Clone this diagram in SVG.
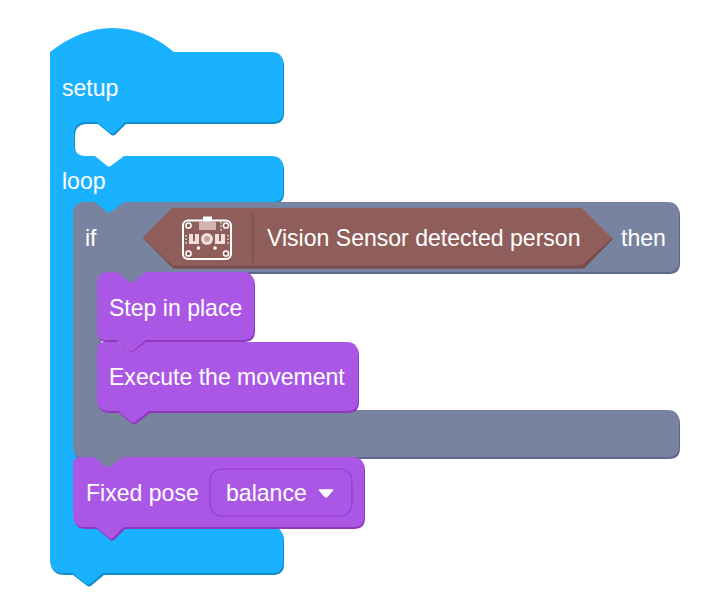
<svg xmlns="http://www.w3.org/2000/svg" width="724" height="605" viewBox="0 0 724 605">
<style>
text{font-family:"Liberation Sans",Arial,sans-serif;font-size:23.050px;fill:#fff}
.blue{fill:#1ab2ff}
.blueS{fill:#0f8ecb}
.slate{fill:#78849f}
.slateS{fill:#5c6a90}
.purple{fill:#ab57e6}
.purpleS{fill:#8e38bd}
.ic{fill:none;stroke:#fff;stroke-width:1.500}
.plate{fill:none;stroke:#fff;stroke-width:2}
.id{fill:#fff}
</style>
<defs>
<path id="setupLoop" d="M50 52C70 36 92 28 112 28C135 28 155 36 174 52H272Q283 52 283 64V111Q283 122 272 122H125L115 132Q112 135 109 132L97 122H86Q74 122 74 134V144Q74 156 86 156H95L106 165Q109 168 112 165L124 156H272Q283 156 283 168V191Q283 202 272 202H124L112 212Q109 215 106 212L95 202H86Q76 202 76 214V500H100V527H272Q283 527 283 539V562Q283 573 272 573H103L91 583Q88 586 85 583L72 573H64Q50 573 50 560Z"/>
<path id="ifBlock" d="M85 202H95L106 211Q109 214 112 211L124 202H668Q679 202 679 214V261Q679 272 668 272H146L134 282Q131 285 128 282L117 272H109Q100 272 100 285V398Q100 410 109 410H668Q679 410 679 422V446Q679 457 668 457H123L111 467Q108 470 105 467L94 457H83Q73 457 73 447V214Q73 202 85 202Z"/>
<path id="stepShape" d="M109 272H117L128 281Q131 284 134 281L146 272H243Q254 272 254 284V329Q254 340 243 340H146L134 350Q131 353 128 350L117 340H105Q97 340 97 332V284Q97 272 109 272Z"/>
<path id="execShape" d="M104 342H118L128 351Q131 354 134 351L146 342H347Q358 342 358 354V400Q358 411 347 411H149L136 421Q133 424 130 421L118 411H109Q97 411 97 399V349Q97 342 104 342Z"/>
<path id="poseShape" d="M80 457H94L105 466Q108 469 111 466L123 457H353Q364 457 364 469V516Q364 527 353 527H124L114 537Q111 540 108 537L96 527H85Q73 527 73 515V464Q73 457 80 457Z"/>
</defs>

<g id="connectors"></g>

<g id="setup-loop">
<use href="#setupLoop" class="blueS" x="1" y="2"/>
<use href="#setupLoop" class="blue"/>
<text x="62" y="96">setup</text>
<text x="62" y="189">loop</text>
</g>

<g id="if-block">
<use href="#ifBlock" class="slateS" x="1" y="2"/>
<use href="#ifBlock" class="slate"/>
<text x="85" y="246">if</text>
<text x="621" y="246">then</text>
</g>

<g id="vision-condition">
<path d="M143 238L173 268.500H584L613 239L582 212H173Z" fill="#784b48"/>
<path d="M143 237.500L172 208H582L612 238L582 265.500H172Z" fill="#8f5e5a"/>
<path d="M253 213V263" stroke="#7a4c49" stroke-width="1.200"/>
<g id="sensor-icon">
<rect x="183" y="220.500" width="48" height="38.500" rx="5" class="plate"/>
<rect x="203" y="216.500" width="9" height="5" class="id"/>
<rect x="199" y="222" width="17" height="8" fill="#e6cfcc" opacity=".75"/>
<circle cx="188.500" cy="225.500" r="2.600" class="ic"/>
<circle cx="226" cy="225.500" r="2.600" class="ic"/>
<circle cx="188.500" cy="253.500" r="2.600" class="ic"/>
<circle cx="226" cy="253.500" r="2.600" class="ic"/>
<circle cx="207" cy="239" r="6" fill="#f0dedc"/>
<circle cx="207" cy="239" r="3" fill="#c9a5a1"/>
<rect x="189" y="234" width="10" height="10" fill="#f0dedc"/>
<rect x="215" y="234" width="10" height="10" fill="#f0dedc"/>
<path d="M194 234V241M220 234V241" stroke="#8f5e5a" stroke-width="2"/>
<circle cx="198.500" cy="248" r="1.800" class="id"/>
<circle cx="215" cy="248" r="1.800" class="id"/>
<path d="M221 222V231M186 235V245M228 235V245" stroke="#fff" stroke-width="1.200" stroke-dasharray="1.500 2"/>
</g>
<text x="267" y="246">Vision Sensor detected person</text>
</g>

<g id="step-in-place">
<use href="#stepShape" class="purpleS" x="1" y="2"/>
<use href="#stepShape" class="purple"/>
<text x="109" y="316">Step in place</text>
</g>

<g id="execute-movement">
<use href="#execShape" class="purpleS" x="1" y="2"/>
<use href="#execShape" class="purple"/>
<text x="109" y="385">Execute the movement</text>
</g>

<g id="fixed-pose">
<use href="#poseShape" class="purpleS" x="1" y="2"/>
<use href="#poseShape" class="purple"/>
<text x="86" y="501">Fixed pose</text>
<rect x="210" y="469" width="142" height="47" rx="12" fill="#ab57e6" stroke="#9440c8" stroke-width="1.200"/>
<text x="226" y="501">balance</text>
<path d="M319.500 490H332.500L327 496.500Q326 497.500 325 496.500Z" fill="#fff" stroke="#fff" stroke-width="1.500" stroke-linejoin="round"/>
</g>
</svg>
